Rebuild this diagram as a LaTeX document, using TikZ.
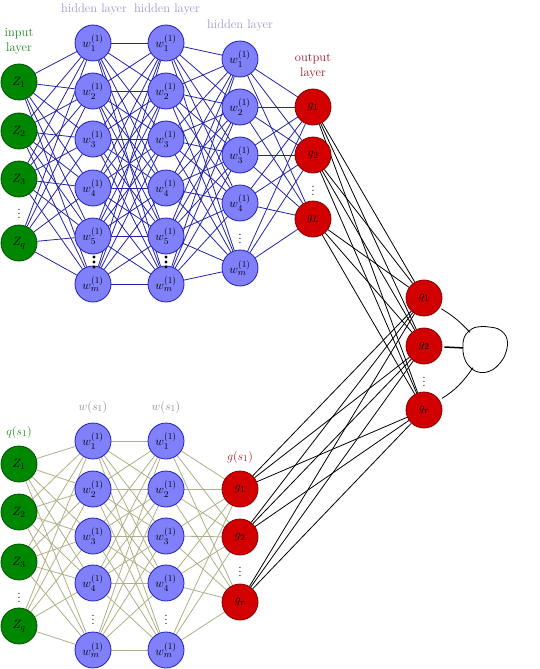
\documentclass[tikz,border=0pt]{standalone}
\usetikzlibrary{backgrounds}
\definecolor{nblue}{RGB}{128,128,250}
\definecolor{nbluedraw}{RGB}{30,30,190}
\definecolor{ngreen}{RGB}{0,135,0}
\definecolor{ngreendraw}{RGB}{0,80,0}
\definecolor{nred}{RGB}{210,0,0}
\definecolor{nreddraw}{RGB}{130,0,0}
\definecolor{eblue}{RGB}{35,35,170}
\definecolor{eolive}{RGB}{175,175,135}
\definecolor{lblue}{RGB}{155,155,200}
\definecolor{lgray}{RGB}{140,140,140}
\definecolor{lred}{RGB}{160,25,35}
\definecolor{lgreen}{RGB}{30,135,30}
\begin{document}
\begin{tikzpicture}[x=1pt,y=-1pt,font=\fontsize{12.5}{15}\selectfont,
  neuron/.style={circle,minimum size=36pt,inner sep=0pt,line width=0.8pt},
  bnode/.style={neuron,fill=nblue,draw=nbluedraw},
  gnode/.style={neuron,fill=ngreen,draw=ngreendraw},
  rnode/.style={neuron,fill=nred,draw=nreddraw},
  dotnode/.style={inner sep=0pt},
  topedge/.style={draw=eblue,line width=0.8pt},
  botedge/.style={draw=eolive,line width=0.8pt},
  outedge/.style={draw=black,line width=0.8pt},
  lab/.style={align=center,inner sep=0pt}]
\useasboundingbox (0,0) rectangle (540,669);

% ---------- top network ----------
\foreach \n/\y/\t in {1/82/Z_1,2/131/Z_2,3/179/Z_3,4/243/Z_q}
  \node[gnode] (ti\n) at (19,\y) {$\t$};
\node[dotnode] (tid) at (19,211) {$\vdots$};
\foreach \n/\y/\t in {1/43/1,2/91/2,3/139/3,4/188/4,5/236/5,6/284/m}{
  \node[bnode] (ta\n) at (93,\y) {$w_{\t}^{(1)}$};
  \node[bnode] (tb\n) at (166,\y) {$w_{\t}^{(1)}$};}
\foreach \n/\y/\t in {1/59/1,2/107/2,3/155/3,4/203/4,5/268/m}
  \node[bnode] (tc\n) at (240,\y) {$w_{\t}^{(1)}$};
\node[dotnode] (tcd) at (240,236) {$\vdots$};
\foreach \n/\y/\t in {1/107/1,2/155/2,3/219/L}
  \node[rnode] (to\n) at (313,\y) {$g_{\t}$};
\node[dotnode] (tod) at (313,188) {$\vdots$};

% ---------- right layer ----------
\foreach \n/\y/\t in {1/298/1,2/346/2,3/410/r}
  \node[rnode] (r\n) at (424,\y) {$g_{\t}$};
\node[dotnode] (rd) at (424,379) {$\vdots$};

% ---------- bottom network ----------
\foreach \n/\y/\t in {1/464/Z_1,2/512/Z_2,3/562/Z_3,4/626/Z_q}
  \node[gnode] (bi\n) at (19,\y) {$\t$};
\node[dotnode] (bid) at (19,595) {$\vdots$};
\foreach \n/\y/\t in {1/441/1,2/489/2,3/536/3,4/583/4,5/650/m}{
  \node[bnode] (ba\n) at (93,\y) {$w_{\t}^{(1)}$};
  \node[bnode] (bb\n) at (166,\y) {$w_{\t}^{(1)}$};}
\node[dotnode] (bad) at (93,617) {$\vdots$};
\node[dotnode] (bbd) at (166,617) {$\vdots$};
\foreach \n/\y/\t in {1/489/1,2/537/2,3/602/r}
  \node[rnode] (bo\n) at (240,\y) {$g_{\t}$};
\node[dotnode] (bod) at (240,569) {$\vdots$};

% ---------- labels ----------
\node[lab,text=lgreen] (linput) at (19,41) {input\\layer};
\node[lab,text=lblue] (lh1) at (94,9) {hidden layer};
\node[lab,text=lblue] (lh2) at (167,9) {hidden layer};
\node[lab,text=lblue] (lh3) at (240,25) {hidden layer};
\node[lab,text=lred] (lout) at (313,66) {output\\layer};
\node[lab,text=lgreen] (lq) at (19,432) {$q(s_1)$};
\node[lab,text=lgray] (lw1) at (93,407) {$w(s_1)$};
\node[lab,text=lgray] (lw2) at (166,407) {$w(s_1)$};
\node[lab,text=lred] (lg) at (240,457) {$g(s_1)$};

% ---------- blob ----------
\node[circle,minimum size=44pt,inner sep=0pt] (blob) at (485,349) {};
\draw[line width=0.8pt] plot[smooth cycle,tension=0.7] coordinates
  {(464,338) (469,331) (477,327) (489,327) (500,330) (507,339) (506,352)
   (500,363) (490,371) (478,372) (469,366) (464,357) (463,347)};

% ---------- edges ----------
\begin{pgfonlayer}{background}
\foreach \i in {1,...,4} \foreach \j in {1,...,6} \draw[topedge] (ti\i) -- (ta\j);
\foreach \i in {1,...,6} \foreach \j in {1,...,6} \draw[topedge] (ta\i) -- (tb\j);
\foreach \i in {1,...,6} \foreach \j in {1,...,5} \draw[topedge] (tb\i) -- (tc\j);
\foreach \i in {1,...,5} \foreach \j in {1,...,3} \draw[topedge] (tc\i) -- (to\j);
\foreach \i in {1,...,3} \foreach \j in {1,...,3} \draw[outedge] (to\i) -- (r\j);
\foreach \i in {1,...,4} \foreach \j in {1,...,5} \draw[botedge] (bi\i) -- (ba\j);
\foreach \i in {1,...,5} \foreach \j in {1,...,5} \draw[botedge] (ba\i) -- (bb\j);
\foreach \i in {1,...,5} \foreach \j in {1,...,3} \draw[botedge] (bb\i) -- (bo\j);
\foreach \i in {1,...,3} \foreach \j in {1,...,3} \draw[outedge] (bo\i) -- (r\j);
\end{pgfonlayer}

% bold dots between w5 and wm
\foreach \x in {94,166}
  \foreach \y in {257,262,267}
    \fill (\x,\y) circle (1.6pt);

% connectors to blob
\draw[line width=0.8pt,shorten <=2pt] (r1) to[bend left=8] (blob);
\draw[line width=1.5pt,shorten <=2pt] (r2) -- (blob);
\draw[line width=0.8pt,shorten <=3pt] (r3) to[bend right=12] (blob);
\end{tikzpicture}
\end{document}
